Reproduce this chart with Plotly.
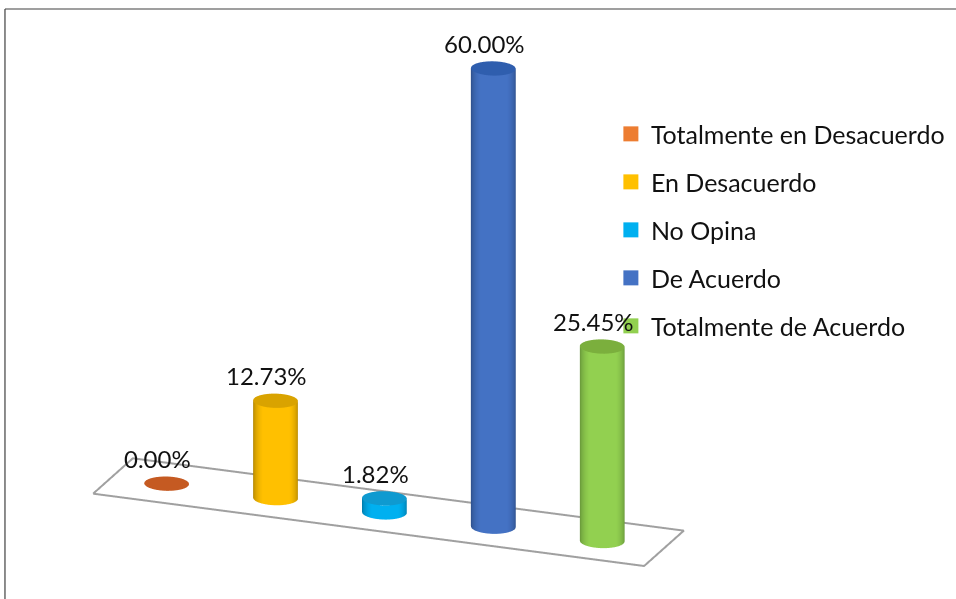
import numpy as np
import plotly.graph_objects as go

categories = ["Totalmente en Desacuerdo", "En Desacuerdo", "No Opina", "De Acuerdo", "Totalmente de Acuerdo"]
values = [0.00, 12.73, 1.82, 60.00, 25.45]
labels = ["0.00%", "12.73%", "1.82%", "60.00%", "25.45%"]
legend_colors = ["#ED7D31", "#FFC000", "#00B0F0", "#4472C4", "#92D050"]
edge_colors = ["#A85A24", "#A87E00", "#0073A0", "#2A4A82", "#5F8C35"]
top_colors = ["#C55A22", "#D9A300", "#0F9AD0", "#2F5EAE", "#7BAF3D"]

RADIUS = 0.194
FONT = "Lato"
BLACK = "#111111"
theta = np.linspace(0, 2 * np.pi, 97)
AZ = np.radians(21)
EL = np.radians(20)
DIST = 2.5
CENTER = np.array([0.292, 0.111, -0.057])
EYE = CENTER + DIST * np.array([np.sin(AZ) * np.cos(EL), -np.cos(AZ) * np.cos(EL), np.sin(EL)])
fig = go.Figure()

for i, (val, ce, cl, ct) in enumerate(zip(values, edge_colors, legend_colors, top_colors)):
    cx = i + 1
    cy = 0.5
    X = cx + RADIUS * np.cos(theta)
    Y = cy + RADIUS * np.sin(theta)
    if val > 0:
        shade = np.abs(np.cos(theta - (-np.pi / 2 + AZ)))
        fig.add_trace(go.Surface(
            x=np.array([X, X]), y=np.array([Y, Y]), z=np.array([np.zeros_like(X), np.full_like(X, val)]),
            surfacecolor=np.array([shade, shade]), cmin=0, cmax=1,
            colorscale=[[0, ce], [0.8, cl], [1, cl]], showscale=False,
            lighting=dict(ambient=1, diffuse=0, specular=0, roughness=1, fresnel=0),
            hoverinfo="skip", showlegend=False))
    R = np.array([0, RADIUS])
    capx = cx + np.outer(R, np.cos(theta))
    capy = cy + np.outer(R, np.sin(theta))
    fig.add_trace(go.Surface(
        x=capx, y=capy, z=np.full_like(capx, val + 0.02),
        surfacecolor=np.zeros_like(capx), cmin=0, cmax=1,
        colorscale=[[0, ct], [1, ct]], showscale=False,
        lighting=dict(ambient=1, diffuse=0, specular=0, roughness=1, fresnel=0),
        hoverinfo="skip", showlegend=False))

# floor outline
fig.add_trace(go.Scatter3d(
    x=[0.5, 5.56, 5.56, 0.5, 0.5], y=[0, 0, 1.04, 1.04, 0], z=[0, 0, 0, 0, 0],
    mode="lines", line=dict(color="#A0A0A0", width=4), hoverinfo="skip", showlegend=False))

# legend entries
for cat, col in zip(categories, legend_colors):
    fig.add_trace(go.Scatter3d(
        x=[None], y=[None], z=[None], mode="markers", name=cat, legendgroup=cat,
        marker=dict(color=col, size=15, symbol="square")))

annotations = [dict(x=i + 1, y=0.5, z=v, text=t, showarrow=False, xanchor="center", yanchor="bottom",
                    xshift=-9, yshift=9, font=dict(family=FONT, size=24, color=BLACK))
               for i, (v, t) in enumerate(zip(values, labels))]

hidden = dict(visible=False, showgrid=False, zeroline=False, showbackground=False)
fig.update_layout(
    width=956, height=599, margin=dict(l=0, r=0, t=0, b=0),
    paper_bgcolor="white", plot_bgcolor="white", showlegend=True,
    font=dict(family=FONT, size=25, color=BLACK),
    legend=dict(x=0.639, y=0.8145, xanchor="left", yanchor="top", tracegroupgap=12.5,
                bgcolor="rgba(0,0,0,0)", font=dict(family=FONT, size=25, color=BLACK)),
    scene=dict(
        domain=dict(x=[0, 1], y=[0, 1]),
        xaxis=dict(range=[0.4, 5.6], **hidden),
        yaxis=dict(range=[-0.05, 1.05], **hidden),
        zaxis=dict(range=[-1, 61], **hidden),
        aspectmode="manual", aspectratio=dict(x=2.025, y=0.391, z=1.682),
        camera=dict(
            projection=dict(type="orthographic"),
            eye=dict(x=float(EYE[0]), y=float(EYE[1]), z=float(EYE[2])),
            center=dict(x=float(CENTER[0]), y=float(CENTER[1]), z=float(CENTER[2])), up=dict(x=0, y=0, z=1)),
        annotations=annotations,
    ),
    shapes=[
        dict(type="line", xref="paper", yref="paper", x0=0.0052, x1=1, y0=0.985, y1=0.985, line=dict(color="#404040", width=1.2)),
        dict(type="line", xref="paper", yref="paper", x0=0.0052, x1=0.0052, y0=0, y1=0.985, line=dict(color="#404040", width=1.2)),
    ],
)
fig.write_html("out.html", config={"displayModeBar": False}, post_script="document.body.style.margin='0';")
